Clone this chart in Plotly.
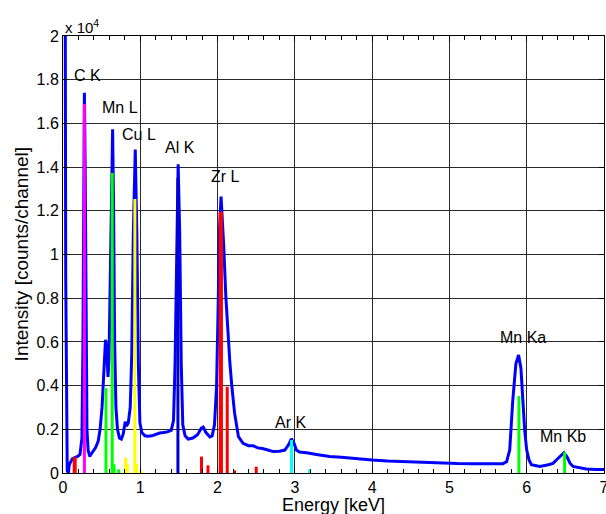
import plotly.graph_objects as go

# Spectrum (energy in keV, counts/channel)
energy = [0.000, 0.025, 0.035, 0.045, 0.055, 0.070, 0.080, 0.095, 0.120, 0.150, 0.190, 0.220,
          0.245, 0.258, 0.268, 0.277, 0.287, 0.297, 0.310, 0.325, 0.345, 0.380, 0.420, 0.455,
          0.480, 0.505, 0.525, 0.540, 0.550, 0.560, 0.572, 0.583, 0.595, 0.610, 0.625, 0.642,
          0.655, 0.668, 0.685, 0.705, 0.730, 0.755, 0.780, 0.805, 0.822, 0.845, 0.870, 0.890,
          0.910, 0.935, 0.955, 0.975, 0.995, 1.020, 1.060, 1.100, 1.150, 1.200, 1.250, 1.300,
          1.350, 1.400, 1.430, 1.450, 1.470, 1.490, 1.510, 1.530, 1.550, 1.580, 1.620, 1.680,
          1.740, 1.790, 1.815, 1.850, 1.900, 1.930, 1.960, 1.987, 2.010, 2.025, 2.045, 2.065,
          2.080, 2.107, 2.137, 2.160, 2.185, 2.220, 2.270, 2.330, 2.400, 2.460, 2.520, 2.580,
          2.650, 2.720, 2.800, 2.870, 2.920, 2.955, 2.985, 3.020, 3.060, 3.150, 3.300, 3.450,
          3.600, 3.800, 4.000, 4.200, 4.440, 4.700, 4.870, 5.100, 5.300, 5.500, 5.690, 5.740,
          5.780, 5.820, 5.860, 5.895, 5.925, 5.950, 5.975, 6.000, 6.030, 6.060, 6.170, 6.280,
          6.340, 6.400, 6.450, 6.480, 6.520, 6.560, 6.600, 6.700, 6.770, 6.900, 7.000]
counts = [30000, 30000, 9000, 1500, 100, 0, 350, 480, 650, 700, 760, 850,
          1600, 6000, 14000, 17400, 14000, 6000, 2000, 1050, 760, 950, 1150, 1450,
          2000, 3000, 4300, 5600, 6100, 5900, 5000, 4400, 5200, 8000, 12500, 15730,
          12000, 6000, 3000, 2000, 1600, 1550, 1800, 2350, 2150, 2300, 3000, 5500,
          11000, 14800, 11000, 5000, 2300, 1850, 1700, 1680, 1700, 1780, 1830, 1850,
          1880, 1950, 2400, 5000, 11000, 14130, 11000, 5000, 2200, 1700, 1550, 1600,
          1750, 2050, 2100, 1850, 1650, 1700, 2200, 3950, 8070, 11120, 12650, 11500,
          10360, 8070, 6090, 5000, 3950, 2750, 1660, 1360, 1250, 1250, 1150, 1120,
          1050, 980, 1000, 1050, 1300, 1560, 1400, 1050, 960, 930, 840, 760,
          720, 650, 595, 550, 510, 470, 440, 430, 420, 410, 420, 520,
          1050, 3340, 5000, 5400, 4800, 3340, 1900, 1050, 600, 380, 300, 380,
          440, 650, 850, 920, 750, 450, 300, 220, 180, 165, 160]

# Line markers (energy keV, height) per element
zr_m_e = [0.145, 0.158]
zr_m_h = [720, 720]
c_k_e = [0.277]
c_k_h = [16890]
mn_l_e = [0.556, 0.637, 0.660, 0.721]
mn_l_h = [3880, 13730, 400, 170]
cu_l_e = [0.811, 0.832, 0.930, 0.950, 1.023]
cu_l_h = [700, 410, 12540, 420, 80]
al_k_e = [1.487]
al_k_h = [13500]
zr_l_e = [1.792, 1.876, 2.035, 2.050, 2.125, 2.220, 2.500]
zr_l_h = [750, 350, 11960, 11960, 3950, 120, 290]
ar_k_e = [2.957, 3.190]
ar_k_h = [1510, 170]
mn_k_e = [5.899, 6.490]
mn_k_h = [3520, 950]

# Peak labels
label_text = ["C K", "Mn L", "Cu L", "Al K", "Zr L", "Ar K", "Mn Ka", "Mn Kb"]
label_e = [0.32, 0.736, 0.982, 1.512, 2.107, 2.949, 5.956, 6.473]
label_y = [18170, 16750, 15470, 14920, 13550, 2330, 6220, 1650]

y_tickvals = [0, 2000, 4000, 6000, 8000, 10000, 12000, 14000, 16000, 18000, 20000]
y_ticktext = ["0", "0.2", "0.4", "0.6", "0.8", "1", "1.2", "1.4", "1.6", "1.8", "2"]

FONT = "Liberation Sans, Arial, sans-serif"

fig = go.Figure()
fig.add_trace(go.Scatter(x=energy, y=counts, mode="lines",
                         line=dict(color="#0000FF", width=3), showlegend=False))


def add_lines(es, hs, color):
    xs, ys = [], []
    for e, h in zip(es, hs):
        xs += [e, e, None]
        ys += [0, h, None]
    fig.add_trace(go.Scatter(x=xs, y=ys, mode="lines",
                             line=dict(color=color, width=3), showlegend=False))


add_lines(zr_m_e, zr_m_h, "#FF0000")
add_lines(c_k_e, c_k_h, "#FF00FF")
add_lines(mn_l_e, mn_l_h, "#00FF00")
add_lines(cu_l_e, cu_l_h, "#FFFF00")
add_lines(al_k_e, al_k_h, "#0000CC")
add_lines(zr_l_e, zr_l_h, "#FF0000")
add_lines(ar_k_e, ar_k_h, "#00FFFF")
add_lines(mn_k_e, mn_k_h, "#00FF00")

for t, e, y in zip(label_text, label_e, label_y):
    fig.add_annotation(x=e, y=y, xref="x", yref="y", text=t, showarrow=False,
                       font=dict(family=FONT, size=16, color="black"))

fig.add_annotation(x=0, y=1, xref="paper", yref="paper", xanchor="left", yanchor="bottom",
                   text="x 10<sup>4</sup>", showarrow=False, yshift=-2,
                   font=dict(family=FONT, size=15, color="black"))

# Axis titles
fig.add_annotation(x=0.5, y=-0.073, xref="paper", yref="paper", xanchor="center", yanchor="middle",
                   text="Energy [keV]", showarrow=False,
                   font=dict(family=FONT, size=18, color="black"))
fig.add_annotation(x=-0.076, y=0.5, xref="paper", yref="paper", xanchor="center", yanchor="middle",
                   text="Intensity [counts/channel]", showarrow=False, textangle=-90,
                   font=dict(family=FONT, size=19, color="black"))

axis_common = dict(showgrid=True, gridcolor="#2a2a2a", gridwidth=1, showline=True,
                   linecolor="black", linewidth=1, mirror="ticks", ticks="inside",
                   ticklen=5, tickcolor="black", zeroline=False, automargin=False,
                   ticklabeloverflow="allow",
                   tickfont=dict(family=FONT, size=16, color="black"))

fig.update_layout(
    width=606, height=514,
    margin=dict(l=63, r=2, t=36, b=41),
    plot_bgcolor="white", paper_bgcolor="white",
    font=dict(family=FONT, color="black"),
    xaxis=dict(range=[0, 7], dtick=1, tick0=0, ticklabelstandoff=0,
               minor=dict(dtick=0.2, ticks="inside", ticklen=4, tickcolor="black", showgrid=False),
               **axis_common),
    yaxis=dict(range=[0, 20000], tickvals=y_tickvals, ticktext=y_ticktext,
               **axis_common),
)

fig.write_html("out.html", config={"displayModeBar": False},
               post_script="document.body.style.margin='0';document.body.style.overflow='hidden';")
